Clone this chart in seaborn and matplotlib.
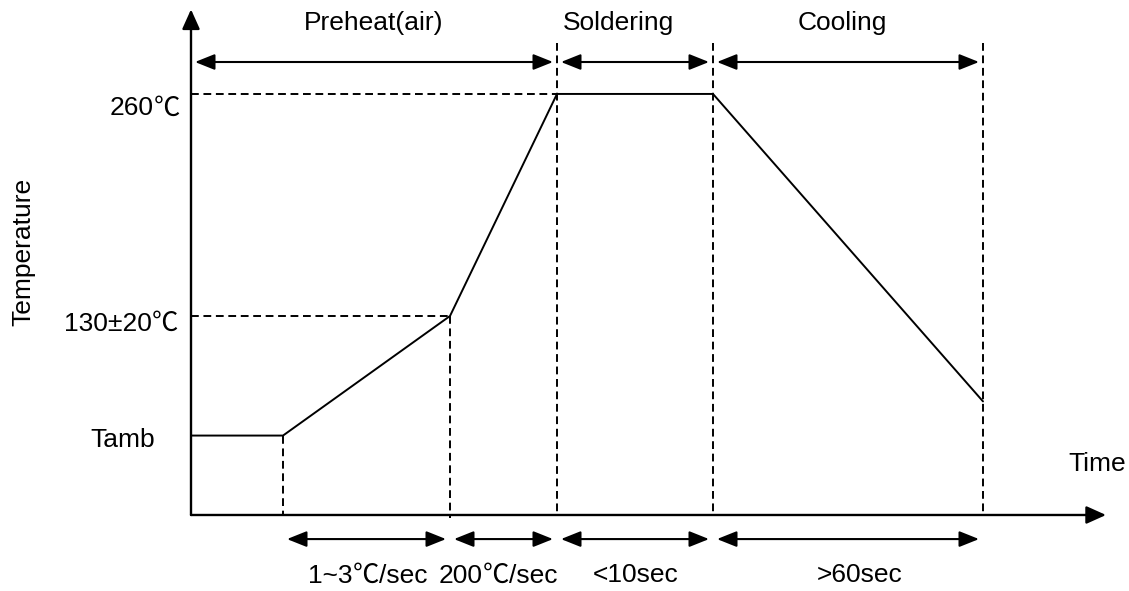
import matplotlib
matplotlib.use("Agg")
import matplotlib.pyplot as plt
from matplotlib.offsetbox import TextArea, HPacker, AnnotationBbox
import seaborn as sns
import numpy as np

# profile breakpoints (schematic time units, degC)
time_pts = [0, 9.2, 25.9, 36.6, 52.2, 79.2]
temp_pts = [60, 60, 130, 260, 260, 80]

temp_levels = [260, 130, 60]
temp_labels = ["260℃", "130±20℃", "Tamb"]

top_phases = [(0, 36.6), (36.6, 52.2), (52.2, 79.2)]
top_labels = ["Preheat(air)", "Soldering", "Cooling"]

bottom_phases = [(9.2, 25.9), (25.9, 36.6), (36.6, 52.2), (52.2, 79.2)]
bottom_labels = ["1~3℃/sec", "200℃/sec", "<10sec", ">60sec"]

# small nudges of the phase labels away from the span centre
top_nudge = [0.0, -1.7, -0.6]
bottom_nudge = [0.1, -0.5, 0.1, 1.2]

sns.set_theme(style="white")
LATIN = ["Liberation Sans", "DejaVu Sans"]
CJK = ["Noto Sans CJK SC", "DejaVu Sans"]
plt.rcParams["font.family"] = LATIN
plt.rcParams["text.color"] = "black"
FS = 19

fig = plt.figure(figsize=(11.29, 5.91), dpi=100)
ax = fig.add_axes([0, 0, 1, 1])
ax.set_xlim(-19.1, 93.8)
ax.set_ylim(-31.0, 315.0)
ax.axis("off")


def label(x, y, s, ha="center"):
    # the degree sign is drawn with a CJK font, the rest with an Arial-like one
    parts = []
    for i, chunk in enumerate(s.split("℃")):
        if i > 0:
            parts.append(TextArea("℃", textprops=dict(fontsize=FS, family=CJK,
                                                       fontweight="light", color="black")))
        if chunk:
            parts.append(TextArea(chunk, textprops=dict(fontsize=FS, family=LATIN, color="black")))
    box = HPacker(children=parts, align="baseline", pad=0, sep=0)
    ax_ = {"center": 0.5, "right": 1.0, "left": 0.0}[ha]
    ab = AnnotationBbox(box, (x, y), xycoords="data", box_alignment=(ax_, 0.5),
                        frameon=False, pad=0)
    ax.add_artist(ab)


y_base = 13.5
y_top_arrow = 278.7
y_bot_arrow = -0.6
gap = 0.4

# axes with arrows
axis_style = dict(arrowstyle="-|>,head_length=0.6,head_width=0.27", color="black",
                  lw=1.7, mutation_scale=20, shrinkA=0, shrinkB=0)
ax.annotate("", xy=(0, 309.5), xytext=(0, y_base), arrowprops=axis_style)
ax.annotate("", xy=(91.5, y_base), xytext=(0, y_base), arrowprops=axis_style)

# temperature profile
sns.lineplot(x=time_pts, y=temp_pts, sort=False, estimator=None, color="black",
             lw=1.4, ax=ax)

dash = dict(color="black", lw=1.4, dashes=(4.0, 2.4))
# horizontal guides
ax.plot([0, time_pts[3]], [temp_pts[3], temp_pts[3]], **dash)
ax.plot([0, time_pts[2]], [temp_pts[2], temp_pts[2]], **dash)
# vertical guides
ax.plot([time_pts[1], time_pts[1]], [temp_pts[1], y_base], **dash)
ax.plot([time_pts[2], time_pts[2]], [temp_pts[2], y_base - 2], **dash)
for t in time_pts[3:]:
    ax.plot([t, t], [290, y_base], **dash)

# phase arrows
dbl = dict(arrowstyle="<|-|>,head_length=0.6,head_width=0.24", color="black",
           lw=1.5, mutation_scale=20, shrinkA=0, shrinkB=0)
for (a, b), lab, dx in zip(top_phases, top_labels, top_nudge):
    ax.annotate("", xy=(a + gap, y_top_arrow), xytext=(b - gap, y_top_arrow), arrowprops=dbl)
    label((a + b) / 2 + dx, 301.6, lab)
for (a, b), lab, dx in zip(bottom_phases, bottom_labels, bottom_nudge):
    ax.annotate("", xy=(a + gap, y_bot_arrow), xytext=(b - gap, y_bot_arrow), arrowprops=dbl)
    label((a + b) / 2 + dx, -21.7, lab)

# temperature labels
label(-1.1, 251.8, temp_labels[0], ha="right")
label(-1.3, 125.9, temp_labels[1], ha="right")
label(-3.6, 57.4, temp_labels[2], ha="right")

ax.text(-16.8, 167.5, "Temperature", rotation=90, ha="center", va="center",
        fontsize=FS, color="black")
ax.text(87.7, 43.3, "Time", ha="left", va="center", fontsize=FS, color="black")

fig.savefig("out.png", dpi=100, facecolor="white")
